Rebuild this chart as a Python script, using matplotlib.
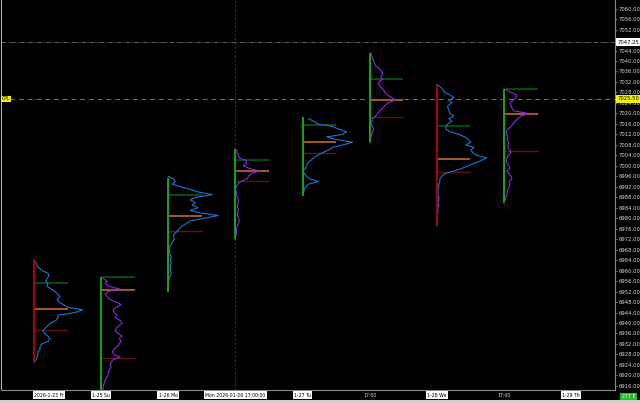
import numpy as np
import matplotlib
matplotlib.use("Agg")
import matplotlib.pyplot as plt
from matplotlib.transforms import blended_transform_factory
from matplotlib.patches import Rectangle

# one profile per session, x = session index
session_kind = ["day", "night", "day", "night", "day", "night", "day", "night"]
session_up = [False, True, True, True, True, True, False, True]
highs = [6964.0, 6957.5, 6995.5, 7006.5, 7018.5, 7043.0, 7030.75, 7029.25]
lows = [6925.0, 6910.0, 6952.0, 6972.0, 6988.5, 7009.0, 6977.0, 6985.75]
vah = [6955.25, 6957.5, 6989.0, 7002.25, 7015.75, 7033.0, 7015.25, 7029.25]
poc = [6945.25, 6952.75, 6981.0, 6998.0, 7009.0, 7025.0, 7002.5, 7019.75]
val = [6937.5, 6926.75, 6975.25, 6994.25, 7005.0, 7018.5, 6997.5, 7005.5]

# volume at price, one value per point from the top price down
prof_top = [6964, 6957, 6996, 7006, 7018, 7043, 7031, 7029]
p1_vol = [0, 2, 3, 5, 8, 14, 15, 13, 12, 14, 13, 17, 21, 24, 26, 23, 25, 29, 34, 49,
          41, 24, 24, 22, 17, 14, 11, 9, 11, 14, 16, 14, 8, 6, 6, 4, 4, 3, 2, 0]
p2_vol = [2, 6, 4, 8, 18, 7, 4, 6, 9, 15, 20, 15, 12, 13, 16, 14, 19, 21, 18, 15,
          14, 17, 21, 18, 20, 18, 16, 13, 11, 13, 19, 12, 10, 9, 10, 8, 7, 7, 5, 4,
          3, 2, 2, 2, 1]
p3_vol = [0, 5, 7, 4, 12, 22, 30, 44, 28, 22, 27, 24, 30, 22, 32, 50, 36, 22, 18, 14,
          11, 9, 6, 5, 6, 4, 3, 1, 1, 1, 2, 3, 2, 3, 2, 2, 2, 3, 2, 1, 0, 0, 0, 0, 0]
p4_vol = [1, 2, 3, 4, 11, 11, 8, 14, 24, 16, 13, 12, 5, 2, 1, 0, 1, 1, 2, 3,
          3, 2, 2, 3, 2, 2, 3, 4, 3, 2, 1, 1, 1, 0, 0]
p5_vol = [6, 11, 15, 30, 36, 44, 40, 24, 34, 50, 41, 30, 26, 20, 15, 11, 8, 5, 4, 3,
          0, 2, 4, 7, 16, 6, 3, 2, 1, 0]
p6_vol = [1, 2, 3, 4, 5, 6, 10, 12, 13, 11, 13, 9, 9, 11, 14, 15, 18, 22, 25, 18,
          15, 13, 10, 8, 6, 3, 2, 1, 3, 4, 3, 2, 1, 1, 0]
p7_vol = [0, 4, 6, 8, 13, 17, 12, 15, 11, 11, 12, 13, 17, 12, 15, 11, 9, 9, 13, 22,
          28, 32, 34, 29, 37, 34, 36, 40, 50, 44, 38, 31, 25, 17, 8, 5, 3, 3, 2, 2,
          1, 1, 1, 2, 2, 1, 2, 1, 1, 1, 0, 0, 0, 0, 0]
p8_vol = [2, 7, 13, 12, 9, 6, 7, 8, 10, 24, 17, 14, 11, 9, 7, 4, 2, 3, 4, 3,
          5, 4, 4, 6, 7, 4, 3, 2, 3, 5, 6, 3, 5, 7, 8, 5, 6, 5, 4, 3,
          3, 2, 1, 0]

date_labels = ["2026-1-23 Fr", "1-25 Su", "1-26 Mo", "Mon 2026-01-26 17:00:00",
               "1-27 Tu", "17:00", "1-28 We", "17:00", "1-29 Th"]
date_boxed = [True, True, True, True, True, False, True, False, True]
price_ticks = list(range(6916, 7061, 4))
last_price = 7025.50
cross_price = 7047.25
cross_session = 3

DAY_BLUE = "#1c74d8"
NIGHT_PURPLE = "#8a2ae0"
UP_GREEN = "#12a812"
DOWN_RED = "#b40000"
VAH_COL = "#0b5e0b"
POC_COL = "#a0552d"
VAL_COL = "#661010"
VOL_TO_X = 1 / 67.14
LEVEL_LEN = 0.5

fig = plt.figure(figsize=(6.4, 4.03), dpi=100, facecolor="black")
ax = fig.add_axes([1 / 640, 13 / 403, 614 / 640, 390 / 403], facecolor="black")
ax.set_xlim(-0.4915, 8.653)
ax.set_ylim(6914.43, 7063.28)

profiles = [p1_vol, p2_vol, p3_vol, p4_vol, p5_vol, p6_vol, p7_vol, p8_vol]
for i, vol in enumerate(profiles):
    prices = prof_top[i] - np.arange(len(vol))
    xs = i + np.asarray(vol) * VOL_TO_X
    col = DAY_BLUE if session_kind[i] == "day" else NIGHT_PURPLE
    ax.hlines(vah[i], i, i + LEVEL_LEN, color=VAH_COL, lw=1.1, zorder=2)
    ax.hlines(poc[i], i, i + LEVEL_LEN, color=POC_COL, lw=1.5, zorder=2)
    ax.hlines(val[i], i, i + LEVEL_LEN, color=VAL_COL, lw=1.0, zorder=2)
    ax.plot(xs, prices, color=col, lw=0.8, zorder=3)
    rng_col = UP_GREEN if session_up[i] else DOWN_RED
    ax.vlines(i, lows[i], highs[i], color=rng_col, lw=1.4, zorder=4)

# last price and crosshair
ax.axhline(last_price, color="#7a7a22", ls=(0, (5, 4)), lw=0.7, zorder=1)
ax.axhline(cross_price, color="#6c6c6c", ls="-.", lw=0.6, zorder=1)
ax.axvline(cross_session, color="#4a4a4a", ls=(0, (2, 3)), lw=0.6, zorder=1)

ax.yaxis.tick_right()
ax.set_yticks(price_ticks)
ax.set_yticklabels(["%.2f" % p for p in price_ticks])
ax.tick_params(axis="y", colors="#8a8a8a", labelcolor="#d8d8d8", labelsize=3.8,
               length=1.5, width=0.5, pad=1.2)
ax.set_xticks([])
for side in ["top"]:
    ax.spines[side].set_visible(False)
ax.spines["right"].set_color("#8a8a8a")
ax.spines["bottom"].set_color("#8a8a8a")
ax.spines["left"].set_color("#b0b0b0")
for side in ["right", "bottom", "left"]:
    ax.spines[side].set_linewidth(0.8)

ytr = ax.get_yaxis_transform()
ax.text(1.004, cross_price, "%.2f" % cross_price, transform=ytr, ha="left", va="center",
        fontsize=3.8, color="black", clip_on=False, zorder=10,
        bbox=dict(boxstyle="square,pad=0.25", fc="white", ec="none"))
ax.text(1.004, last_price, "%.2f" % last_price, transform=ytr, ha="left", va="center",
        fontsize=3.8, color="black", clip_on=False, zorder=10,
        bbox=dict(boxstyle="square,pad=0.25", fc="#f2f200", ec="none"))
ax.text(0.001, last_price, "CPL", transform=ytr, ha="left", va="center",
        fontsize=3.3, color="black", zorder=10,
        bbox=dict(boxstyle="square,pad=0.2", fc="#f2f200", ec="none"))

# session labels under the chart
xtr = ax.get_xaxis_transform()
for i, (lab, boxed) in enumerate(zip(date_labels, date_boxed)):
    ha = "left" if i == 0 else "center"
    if boxed:
        ax.text(i, -0.0135, lab, transform=xtr, ha=ha, va="center", fontsize=3.3,
                color="black", clip_on=False,
                bbox=dict(boxstyle="square,pad=0.3", fc="white", ec="none"))
    else:
        ax.text(i, -0.0135, lab, transform=xtr, ha=ha, va="center", fontsize=3.3,
                color="#e0e0e0", clip_on=False)

fig.patches.append(Rectangle((0, 0), 1, 3 / 403, transform=fig.transFigure,
                             fc="#cfcfcf", ec="none"))
fig.text(628.5 / 640, 6.5 / 403, "277 E", ha="center", va="center", fontsize=3.3,
         color="white", bbox=dict(boxstyle="square,pad=0.3", fc="#22c022", ec="none"))

fig.savefig("out.png", dpi=100, facecolor="black")
